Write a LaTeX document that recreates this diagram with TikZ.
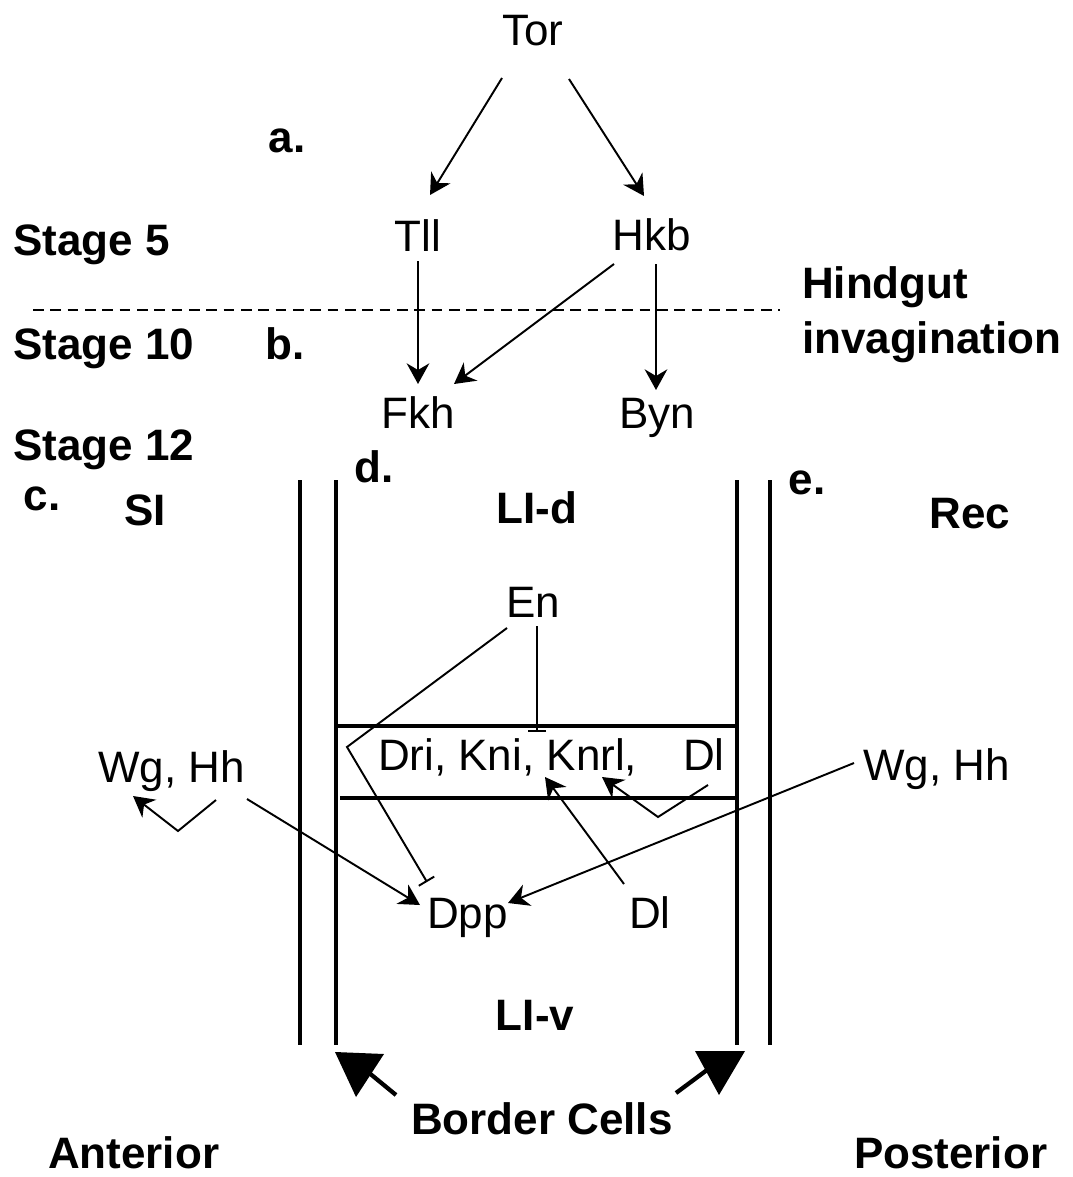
\documentclass[tikz,border=0pt]{standalone}
\usepackage{fontspec}
\setmainfont{Liberation Sans}
\usetikzlibrary{arrows.meta,calc}
\begin{document}
\begin{tikzpicture}[x=0.75pt,y=-0.75pt,
  txt/.style={inner sep=0pt,outer sep=0pt,font=\fontsize{33}{40}\selectfont},
  btxt/.style={txt,font=\fontsize{33}{40}\selectfont\bfseries},
  arr/.style={line width=1.45pt,-{Stealth[length=15.5pt,width=17pt,inset=5pt]}},
  inh/.style={line width=1.45pt,-{Bar[width=13.5pt]}},
  wall/.style={line width=3.3pt},
  band/.style={line width=3.3pt}]
\useasboundingbox (0,0) rectangle (1073,1177);
% text nodes
\node[txt,anchor=base] (tor) at (533,46) {Tor};
\node[btxt,anchor=base] (la) at (287,153) {a.};
\node[btxt,anchor=base west] (s5) at (13,255) {Stage 5};
\node[txt,anchor=base] (tll) at (418,251) {Tll};
\node[txt,anchor=base] (hkb) at (652,250) {Hkb};
\node[btxt,anchor=base west] (hind) at (802,298) {Hindgut};
\node[btxt,anchor=base west] (inv) at (802,353) {invagination};
\node[btxt,anchor=base west] (s10) at (13,359) {Stage 10};
\node[btxt,anchor=base] (lb) at (285,359) {b.};
\node[txt,anchor=base] (fkh) at (418,428) {Fkh};
\node[txt,anchor=base] (byn) at (657,428) {Byn};
\node[btxt,anchor=base west] (s12) at (13,460) {Stage 12};
\node[btxt,anchor=base] (ld) at (374,482) {d.};
\node[btxt,anchor=base] (lc) at (42,510) {c.};
\node[btxt,anchor=base] (si) at (145,525) {SI};
\node[btxt,anchor=base] (lid) at (537,523) {LI-d};
\node[btxt,anchor=base] (le) at (807,494) {e.};
\node[btxt,anchor=base] (rec) at (970,528) {Rec};
\node[txt,anchor=base] (en) at (533,617) {En};
\node[txt,anchor=base west] (dkk) at (378,770) {Dri, Kni, Knrl,};
\node[txt,anchor=base west] (dla) at (683,770) {Dl};
\node[txt,anchor=base west] (wgl) at (98,782) {Wg, Hh};
\node[txt,anchor=base west] (wgr) at (863,780) {Wg, Hh};
\node[txt,anchor=base west] (dpp) at (427,928) {Dpp};
\node[txt,anchor=base west] (dlb) at (629,928) {Dl};
\node[btxt,anchor=base] (liv) at (535,1030) {LI-v};
\node[btxt,anchor=base west] (bc) at (411,1134) {Border Cells};
\node[btxt,anchor=base west] (ant) at (48,1168) {Anterior};
\node[btxt,anchor=base west] (post) at (854,1168) {Posterior};
% dashed stage line
\draw[line width=1.2pt,dash pattern=on 8pt off 5pt] (33,310) -- (780,310);
% walls
\draw[wall] (300,480) -- (300,1045);
\draw[wall] (336,480) -- (336,1045);
\draw[wall] (737,480) -- (737,1045);
\draw[wall] (770,480) -- (770,1045);
\draw[band] (336,726) -- (737,726);
\draw[band] (340,798) -- (737,798);
% top network
\draw[arr] ($(tor.base)+(-31,32)$) -- ($(tll.base)+(12,-56)$);
\draw[arr] ($(tor.base)+(36,33)$) -- ($(hkb.base)+(-8,-54)$);
\draw[arr] ($(tll.base)+(0,10)$) -- ($(fkh.base)+(0,-44)$);
\draw[arr] ($(hkb.base)+(-38,14)$) -- ($(fkh.base)+(36,-44)$);
\draw[arr] ($(hkb.base)+(4,14)$) -- ($(byn.base)+(-1,-38)$);
% middle network
\draw[inh] ($(en.base)+(4,9)$) -- ($(dkk.base west)+(159,-38)$);
\draw[inh] ($(en.base)+(-26,11)$) -- ($(en.base)+(-186,130)$) -- ($(dpp.base west)+(0,-46)$);
\draw[arr] ($(wgl.base west)+(118,18)$) -- ($(wgl.base west)+(80,49)$) -- ($(wgl.base west)+(35,14)$);
\draw[arr] ($(wgl.base west)+(149,17)$) -- ($(dpp.base west)+(-7,-23)$);
\draw[arr] ($(wgr.base west)+(-9,-17)$) -- ($(dpp.base west)+(81,-25)$);
\draw[arr] ($(dlb.base west)+(-5,-44)$) -- ($(dkk.base west)+(167,7)$);
\draw[arr] ($(dla.base west)+(25,15)$) -- ($(dla.base west)+(-25,47)$) -- ($(dla.base west)+(-81,7)$);
% border cell arrows
\draw[line width=3.2pt] ($(bc.base west)+(-15,-39)$) -- ($(bc.base west)+(-43,-62)$);
\fill (335,1052) -- (384,1054) -- (356,1097) -- cycle;
\draw[line width=3.2pt] ($(bc.base west)+(265,-41)$) -- ($(bc.base west)+(296,-64)$);
\fill (695,1051) -- (745,1051) -- (719,1095) -- cycle;
\end{tikzpicture}
\end{document}
